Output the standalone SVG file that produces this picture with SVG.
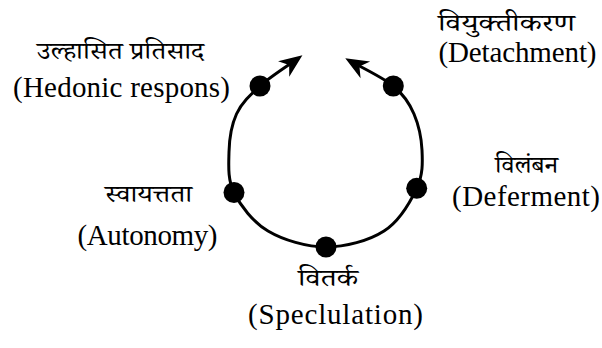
<svg xmlns="http://www.w3.org/2000/svg" width="602" height="348" viewBox="0 0 602 348">
<style>
.ring{fill:none;stroke:#000;stroke-width:3;stroke-linecap:butt}
.dot{fill:#000}
.en{font-family:"Liberation Serif","Times New Roman",serif;font-size:29px;fill:#000;text-anchor:middle}
.hi{font-family:"Noto Serif Devanagari","Noto Sans Devanagari","Lohit Devanagari","FreeSerif","Noto Sans",serif;font-size:24px;fill:#000;text-anchor:middle}
</style>
<defs>
<marker id="ah" markerUnits="userSpaceOnUse" markerWidth="30" markerHeight="30" viewBox="-16 -10 22 20" refX="0" refY="0" orient="auto-start-reverse">
<path d="M4,0 L-13,-7 L-8,0 L-13,7 Z" fill="#000"/>
</marker>
</defs>
<g id="connectors">
<path class="ring" marker-start="url(#ah)" marker-end="url(#ah)" d="M298,58.5 C291.67,63.08 270,76.92 260,86 C250,95.08 241.5,103 236.5,114 C231.5,125 229.3,138.75 229,152 C228.7,165.25 227.5,179.33 234,192.5 C240.5,205.67 252.67,221.92 268,231 C283.33,240.08 306.67,247 326,247 C345.33,247 368.88,240.78 384,231 C399.12,221.22 410.37,201.8 416.7,188.3 C423.03,174.8 422.62,162.55 422,150 C421.38,137.45 418.5,124.67 414,114 C409.5,103.33 403.8,94.67 393.3,86 C382.8,77.33 357.22,65.17 350,61"/>
</g>
<g id="node-hedonic">
<circle class="dot" cx="260" cy="86" r="10.5"/>
<text class="hi" x="120.5" y="59" textLength="167" lengthAdjust="spacingAndGlyphs">उल्हासित प्रतिसाद</text>
<text class="en" x="121.5" y="96.5" textLength="217" lengthAdjust="spacing">(Hedonic respons)</text>
</g>
<g id="node-detachment">
<circle class="dot" cx="393.3" cy="86" r="10.5"/>
<text class="hi" x="506.5" y="30.5" textLength="137" lengthAdjust="spacingAndGlyphs">वियुक्तीकरण</text>
<text class="en" x="517.5" y="62" textLength="158" lengthAdjust="spacing">(Detachment)</text>
</g>
<g id="node-deferment">
<circle class="dot" cx="416.7" cy="188.3" r="10.5"/>
<text class="hi" x="526.5" y="172.5" textLength="63" lengthAdjust="spacingAndGlyphs">विलंबन</text>
<text class="en" x="526" y="206" textLength="148" lengthAdjust="spacing">(Deferment)</text>
</g>
<g id="node-speculation">
<circle class="dot" cx="326" cy="247" r="10.5"/>
<text class="hi" x="328" y="286" textLength="60" lengthAdjust="spacingAndGlyphs">वितर्क</text>
<text class="en" x="335.5" y="323.5" textLength="175" lengthAdjust="spacing">(Speclulation)</text>
</g>
<g id="node-autonomy">
<circle class="dot" cx="234" cy="192.5" r="10.5"/>
<text class="hi" x="148.5" y="202" textLength="87" lengthAdjust="spacingAndGlyphs">स्वायत्तता</text>
<text class="en" x="147.5" y="245" textLength="140" lengthAdjust="spacing">(Autonomy)</text>
</g>
</svg>
